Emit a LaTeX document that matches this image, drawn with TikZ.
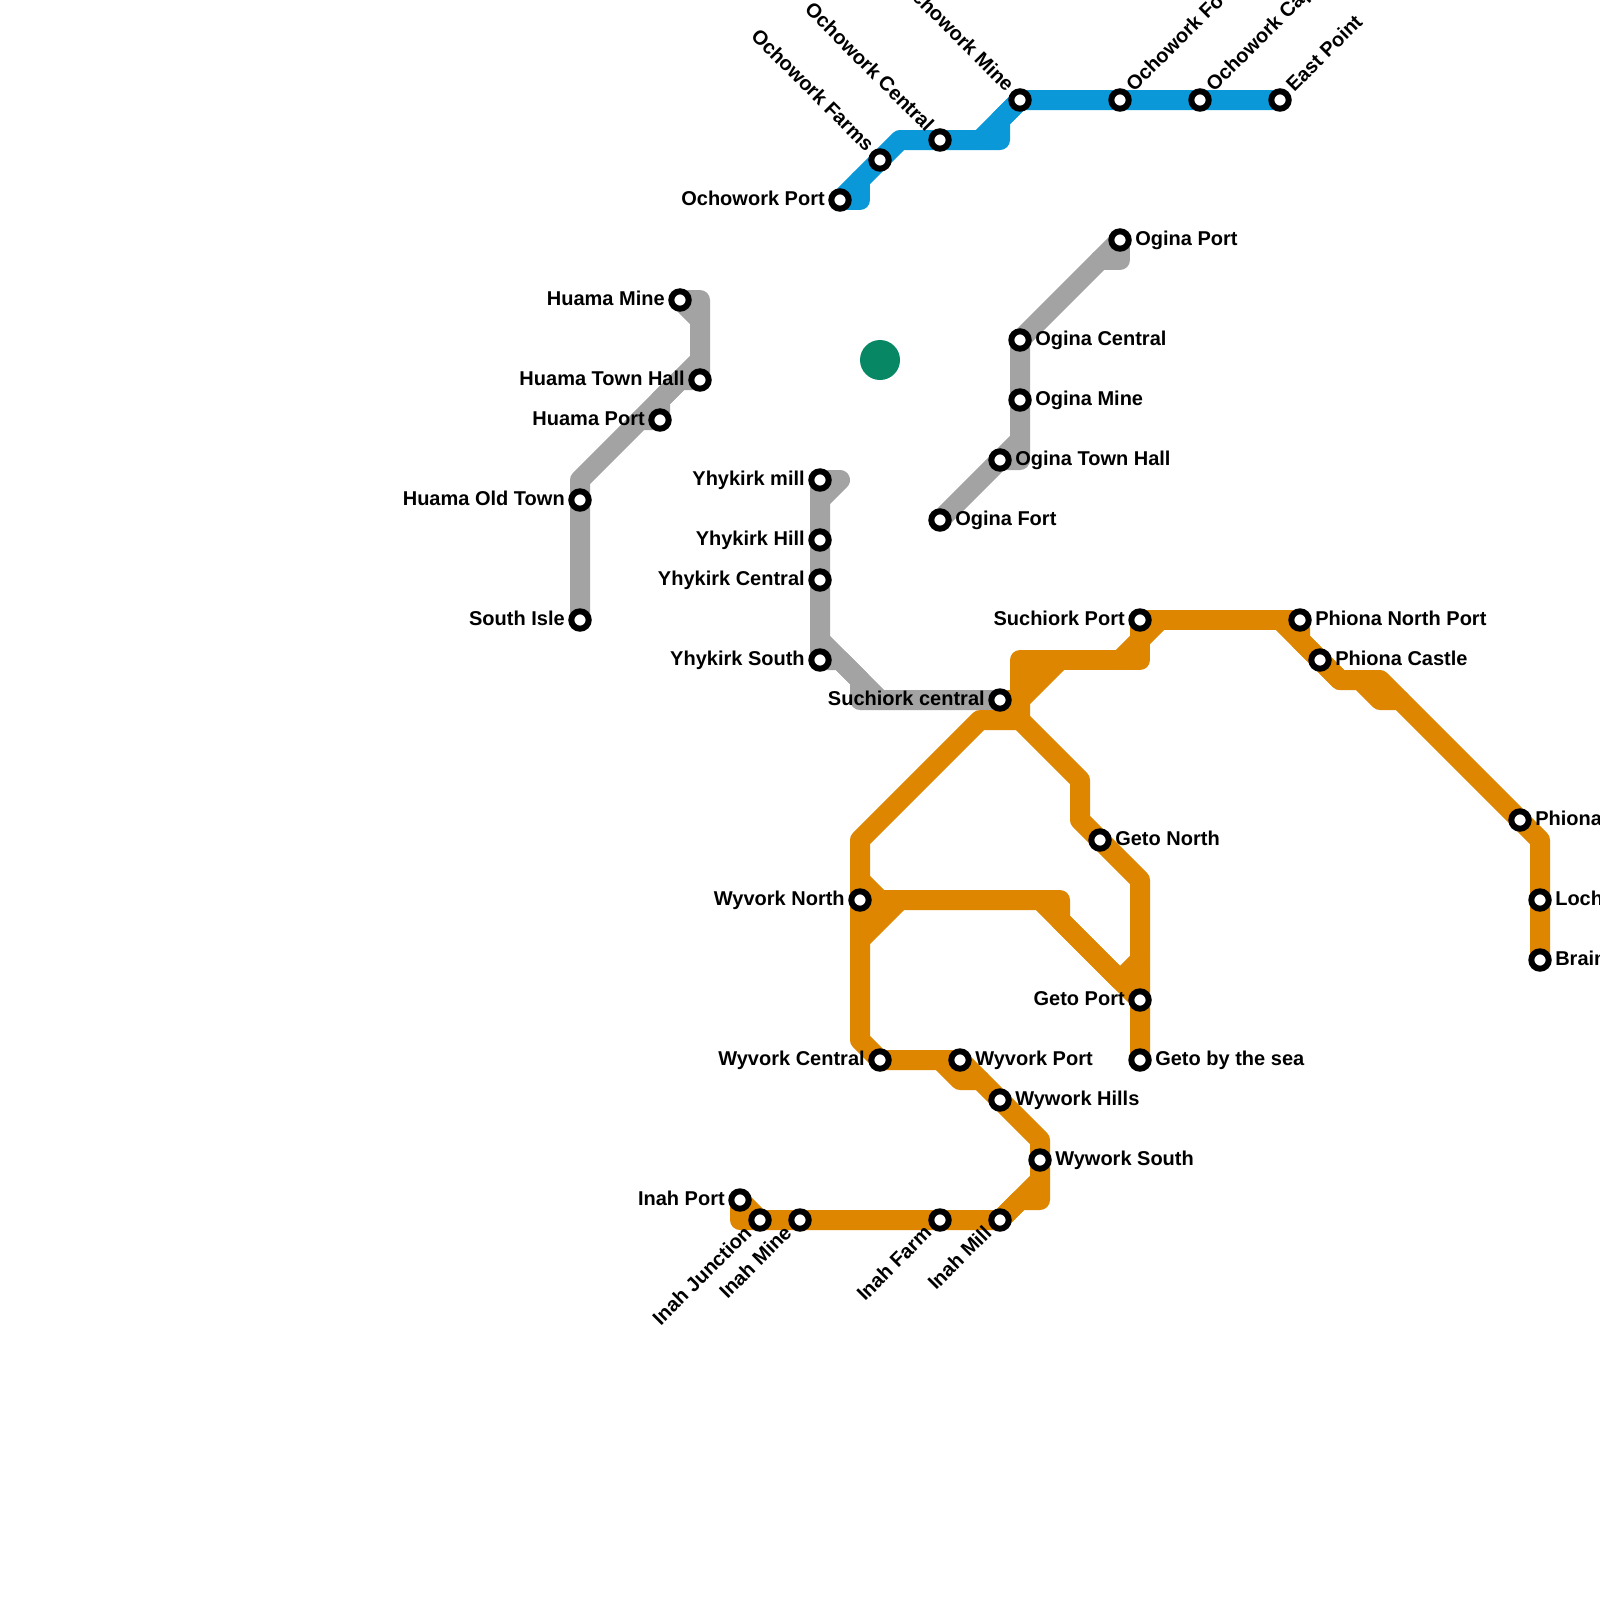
\documentclass[tikz,border=0pt]{standalone}
\usepackage{fontspec}
\setmainfont{Liberation Sans}
\usetikzlibrary{backgrounds}

\definecolor{lineblue}{HTML}{0A98D8}
\definecolor{linegrey}{HTML}{A3A3A3}
\definecolor{lineorange}{HTML}{DE8600}
\definecolor{hubgreen}{HTML}{078764}

\begin{document}
\begin{tikzpicture}[
    x=0.5cm, y=-0.5cm,
    every node/.style={font=\fontsize{14.23}{17}\selectfont\bfseries},
    route/.style={line width=0.5cm, line join=round, line cap=round},
    stn/.style={circle, draw=black, fill=white, line width=0.15cm, minimum size=0.435cm, inner sep=0pt},
    lblE/.style={inner sep=0pt, anchor=base west, xshift=0.375cm, yshift=-0.125cm},
    lblW/.style={inner sep=0pt, anchor=base east, xshift=-0.375cm, yshift=-0.125cm},
    lblNE/.style={rotate=45, lblE},
    lblNW/.style={rotate=-45, lblW},
    lblSW/.style={rotate=45, lblW},
]

\useasboundingbox (0,0) rectangle (80,80);

% --- Ochowork ---
\node[stn] (OP) at (42,10) {};
\node[stn] (OF) at (44,8) {};
\node[stn] (OC) at (47,7) {};
\node[stn] (OM) at (51,5) {};
\node[stn] (OO) at (56,5) {};
\node[stn] (OK) at (60,5) {};
\node[stn] (EP) at (64,5) {};
\node[lblW] (OPl) at (OP) {Ochowork Port};
\node[lblNW] (OFl) at (OF) {Ochowork Farms};
\node[lblNW] (OCl) at (OC) {Ochowork Central};
\node[lblNW] (OMl) at (OM) {Ochowork Mine};
\node[lblNE] (OOl) at (OO) {Ochowork Fo};
\node[lblNE] (OKl) at (OK) {Ochowork Cap};
\node[lblNE] (EPl) at (EP) {East Point};

% --- Ogina ---
\node[stn] (GP) at (56,12) {};
\node[stn] (GC) at (51,17) {};
\node[stn] (GM) at (51,20) {};
\node[stn] (GT) at (50,23) {};
\node[stn] (GF) at (47,26) {};
\node[lblE] (GPl) at (GP) {Ogina Port};
\node[lblE] (GCl) at (GC) {Ogina Central};
\node[lblE] (GMl) at (GM) {Ogina Mine};
\node[lblE] (GTl) at (GT) {Ogina Town Hall};
\node[lblE] (GFl) at (GF) {Ogina Fort};

% --- Huama ---
\node[stn] (HM) at (34,15) {};
\node[stn] (HT) at (35,19) {};
\node[stn] (HP) at (33,21) {};
\node[stn] (HO) at (29,25) {};
\node[stn] (SI) at (29,31) {};
\node[lblW] (HMl) at (HM) {Huama Mine};
\node[lblW] (HTl) at (HT) {Huama Town Hall};
\node[lblW] (HPl) at (HP) {Huama Port};
\node[lblW] (HOl) at (HO) {Huama Old Town};
\node[lblW] (SIl) at (SI) {South Isle};

% --- Yhykirk ---
\node[stn] (YM) at (41,24) {};
\node[stn] (YH) at (41,27) {};
\node[stn] (YC) at (41,29) {};
\node[stn] (YS) at (41,33) {};
\node[lblW] (YMl) at (YM) {Yhykirk mill};
\node[lblW] (YHl) at (YH) {Yhykirk Hill};
\node[lblW] (YCl) at (YC) {Yhykirk Central};
\node[lblW] (YSl) at (YS) {Yhykirk South};

% --- Suchiork ---
\node[stn] (SC) at (50,35) {};
\node[stn] (SP) at (57,31) {};
\node[lblW] (SCl) at (SC) {Suchiork central};
\node[lblW] (SPl) at (SP) {Suchiork Port};

% --- Phiona ---
\node[stn] (PN) at (65,31) {};
\node[stn] (PC) at (66,33) {};
\node[stn] (PH) at (76,41) {};
\node[stn] (LO) at (77,45) {};
\node[stn] (BR) at (77,48) {};
\node[lblE] (PNl) at (PN) {Phiona North Port};
\node[lblE] (PCl) at (PC) {Phiona Castle};
\node[lblE] (PHl) at (PH) {Phiona};
\node[lblE] (LOl) at (LO) {Loch};
\node[lblE] (BRl) at (BR) {Brain};

% --- Geto ---
\node[stn] (TN) at (55,42) {};
\node[stn] (TP) at (57,50) {};
\node[stn] (TS) at (57,53) {};
\node[lblE] (TNl) at (TN) {Geto North};
\node[lblW] (TPl) at (TP) {Geto Port};
\node[lblE] (TSl) at (TS) {Geto by the sea};

% --- Wyvork ---
\node[stn] (WN) at (43,45) {};
\node[stn] (WC) at (44,53) {};
\node[stn] (WP) at (48,53) {};
\node[stn] (WH) at (50,55) {};
\node[stn] (WS) at (52,58) {};
\node[lblW] (WNl) at (WN) {Wyvork North};
\node[lblW] (WCl) at (WC) {Wyvork Central};
\node[lblE] (WPl) at (WP) {Wyvork Port};
\node[lblE] (WHl) at (WH) {Wywork Hills};
\node[lblE] (WSl) at (WS) {Wywork South};

% --- Inah ---
\node[stn] (IP) at (37,60) {};
\node[stn] (IJ) at (38,61) {};
\node[stn] (IM) at (40,61) {};
\node[stn] (IF) at (47,61) {};
\node[stn] (IL) at (50,61) {};
\node[lblW] (IPl) at (IP) {Inah Port};
\node[lblSW] (IJl) at (IJ) {Inah Junction};
\node[lblSW] (IMl) at (IM) {Inah Mine};
\node[lblSW] (IFl) at (IF) {Inah Farm};
\node[lblSW] (ILl) at (IL) {Inah Mill};

% --- Lines under the stations ---
\begin{pgfonlayer}{background}
\draw[route, lineblue] (OP.center) -- (OF.center) -- (45,7) -- (OC.center) -- (50,7) -- (50,6) -- (OM.center)
    -- (OO.center) -- (OK.center) -- (EP.center);
\draw[route, lineblue] (OP.center) -- (43,10) -- (43,9);
\draw[route, lineblue] (49,7) -- (OM.center);

\draw[route, linegrey] (GP.center) -- (56,13) -- (55,13);
\draw[route, linegrey] (GP.center) -- (GC.center) -- (GM.center) -- (51,23) -- (GT.center) -- (GF.center);
\draw[route, linegrey] (51,22) -- (GT.center);

\draw[route, linegrey] (HM.center) -- (35,15) -- (HT.center) -- (34,19) -- (33,20) -- (HP.center)
    -- (32,21) -- (29,24) -- (HO.center) -- (SI.center);
\draw[route, linegrey] (HM.center) -- (35,16);
\draw[route, linegrey] (35,18) -- (32,21);

\draw[route, linegrey] (YM.center) -- (42,24) -- (41,25);
\draw[route, linegrey] (YM.center) -- (YH.center) -- (YC.center) -- (YS.center) -- (42,33) -- (43,34) -- (43,35) -- (SC.center);
\draw[route, linegrey] (41,32) -- (44,35);

\draw[route, lineorange] (SC.center) -- (51,35) -- (51,33) -- (57,33) -- (SP.center) -- (PN.center);
\draw[route, lineorange] (51,35) -- (53,33);
\draw[route, lineorange] (51,34) -- (52,33);
\draw[route, lineorange] (56,33) -- (58,31);
\draw[route, lineorange] (51,35) -- (51,36) -- (49,36) -- (43,42) -- (WN.center) -- (43,52) -- (WC.center)
    -- (WP.center) -- (WH.center) -- (52,57) -- (WS.center) -- (52,60) -- (51,60) -- (IL.center)
    -- (IF.center) -- (IM.center) -- (IJ.center) -- (37,61) -- (IP.center) -- (IJ.center);
\draw[route, lineorange] (51,36) -- (54,39) -- (54,41) -- (TN.center) -- (57,44) -- (TP.center) -- (TS.center);
\draw[route, lineorange] (43,44) -- (44,45) -- (53,45) -- (53,46) -- (56,49) -- (57,48);
\draw[route, lineorange] (WN.center) -- (44,45);
\draw[route, lineorange] (43,46) -- (44,45);
\draw[route, lineorange] (52,45) -- (TP.center);
\draw[route, lineorange] (45,45) -- (43,47);
\draw[route, lineorange] (47,53) -- (48,54) -- (49,54);
\draw[route, lineorange] (52,59) -- (IL.center);
\draw[route, lineorange] (PN.center) -- (65,32) -- (PC.center) -- (67,34) -- (69,34) -- (PH.center) -- (77,42) -- (LO.center) -- (BR.center);
\draw[route, lineorange] (64,31) -- (67,34);
\draw[route, lineorange] (68,34) -- (69,35) -- (70,35);
\end{pgfonlayer}

% --- Green dot ---
\node[circle, fill=hubgreen, minimum size=1cm, inner sep=0pt] (hub) at (44,18) {};

\end{tikzpicture}
\end{document}
